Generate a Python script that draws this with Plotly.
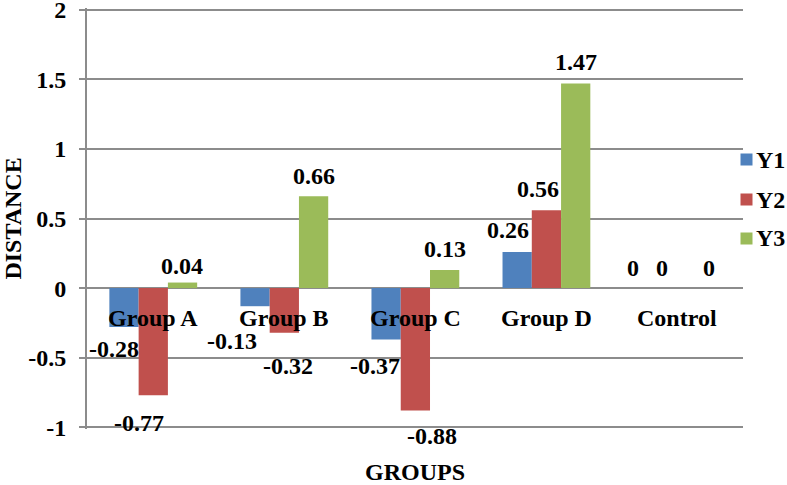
import plotly.graph_objects as go

# ---- data ----
categories = ["Group A", "Group B", "Group C", "Group D", "Control"]
series_names = ["Y1", "Y2", "Y3"]
y1 = [-0.28, -0.13, -0.37, 0.26, 0]
y2 = [-0.77, -0.32, -0.88, 0.56, 0]
y3 = [0.04, 0.66, 0.13, 1.47, 0]
y_tick_values = [-1, -0.5, 0, 0.5, 1, 1.5, 2]
y_tick_labels = ["-1", "-0.5", "0", "0.5", "1", "1.5", "2"]

# ---- styles ----
colors = ["#4F81BD", "#C0504D", "#9BBB59"]
FONT = "Liberation Serif"
FS = 24
GRID = "#8C8C8C"
BARGAP = 0.33
# pixel nudges of value labels (dx, dy) relative to bar end, as in the original
label_nudges = [
    [(-10, 22), (-23, 35), (-11, 26), (-9, -22), (-15, -20)],
    [(-14, 28), (4, 33), (17, 25), (-8, -21), (-15, -20)],
    [(-1, -17), (0, -20), (0, -21), (0, -21), (2, -20)],
]
# legend placement (paper coords) to the right of the plot area
legend_x_swatch = 1.0046
legend_x_text = 1.0175
legend_y = [0.640, 0.544, 0.453]

series = [y1, y2, y3]
fig = go.Figure()
for name, vals, col in zip(series_names, series, colors):
    fig.add_trace(go.Bar(
        x=categories, y=vals, name=name, marker_color=col,
        marker_line_width=0, showlegend=False,
    ))

n = len(series)
w = (1 - BARGAP) / n
annotations = []
for j, vals in enumerate(series):
    for i, v in enumerate(vals):
        dx, dy = label_nudges[j][i]
        annotations.append(dict(
            x=i + (j - (n - 1) / 2) * w, y=v, xref="x", yref="y",
            text=f"<b>{v:g}</b>", showarrow=False, xanchor="center", yanchor="middle",
            xshift=dx, yshift=-dy,
            font=dict(family=FONT, size=FS, color="black"),
        ))
for i, c in enumerate(categories):
    annotations.append(dict(
        x=i, y=0, xref="x", yref="y", text=f"<b>{c}</b>", showarrow=False,
        xanchor="center", yanchor="middle", yshift=-30,
        font=dict(family=FONT, size=FS, color="black"),
    ))
# legend: colour swatch + series name
for name, col, ly in zip(series_names, colors, legend_y):
    annotations.append(dict(
        x=legend_x_swatch, y=ly, xref="paper", yref="paper", text=" ",
        showarrow=False, xanchor="center", yanchor="middle",
        width=11, height=11, bgcolor=col, borderpad=0,
        font=dict(size=2),
    ))
    annotations.append(dict(
        x=legend_x_text, y=ly, xref="paper", yref="paper", text=f"<b>{name}</b>",
        showarrow=False, xanchor="left", yanchor="middle",
        font=dict(family=FONT, size=FS, color="black"),
    ))

fig.update_layout(
    template="none",
    width=787, height=485,
    margin=dict(l=87, r=44, t=8, b=56, pad=0),
    paper_bgcolor="white", plot_bgcolor="white",
    barmode="group", bargap=BARGAP, bargroupgap=0,
    font=dict(family=FONT, size=FS, color="black"),
    annotations=annotations,
    showlegend=False,
)
fig.update_xaxes(
    automargin=False,
    showticklabels=False, ticks="", showgrid=False, showline=False,
    zeroline=False,
    title=dict(text="<b>GROUPS</b>", standoff=45,
               font=dict(family=FONT, size=FS, color="black")),
)
fig.update_yaxes(
    automargin=False,
    range=[-1.012, 2.012], tickmode="array", tickvals=y_tick_values,
    ticktext=[f"<b>{t}</b>\u2004" for t in y_tick_labels],
    ticklabeloverflow="allow",
    showgrid=True, gridcolor=GRID, gridwidth=2,
    zeroline=True, zerolinecolor=GRID, zerolinewidth=2,
    showline=True, linecolor=GRID, linewidth=2,
    ticks="outside", ticklen=6, tickcolor=GRID, tickwidth=2,
    tickfont=dict(family=FONT, size=FS, color="black"),
    title=dict(text="<b>DISTANCE</b>", standoff=2,
               font=dict(family=FONT, size=FS, color="black")),
)

fig.write_html("out.html", config={"displayModeBar": False},
               post_script="document.body.style.margin='0';")
